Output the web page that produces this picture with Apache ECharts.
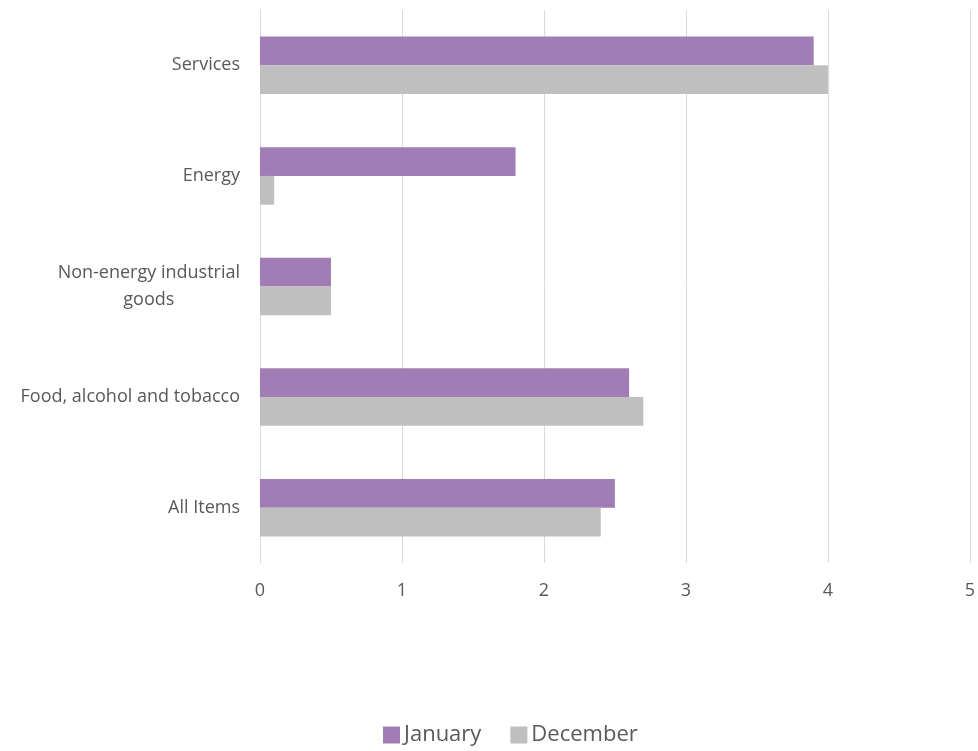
<!DOCTYPE html>
<html><head><meta charset="utf-8">
<script src="https://cdn.jsdelivr.net/npm/echarts@6/dist/echarts.min.js"></script>
<style>html,body{margin:0;padding:0;background:#fff}#c{width:978px;height:751px}</style>
</head><body><div id="c"></div>
<script>
const categories = ['Services', 'Energy', 'Non-energy industrial goods', 'Food, alcohol and tobacco', 'All Items'];
const january = [3.9, 1.8, 0.5, 2.6, 2.5];
const december = [4.0, 0.1, 0.5, 2.7, 2.4];
const xTicks = [0, 1, 2, 3, 4, 5];

const FONT = 'Open Sans';
const chart = echarts.init(document.getElementById('c'));
chart.setOption({
  animation: false,
  grid: { left: 260, right: 7, top: 10, bottom: 188, containLabel: false },
  legend: {
    top: 724, left: 383, padding: 0, itemWidth: 17, itemHeight: 17, itemGap: 29,
    icon: 'rect',
    textStyle: { fontFamily: FONT, fontSize: 22, color: '#595959', padding: [0, 0, 0, -1] },
    data: ['January', 'December']
  },
  xAxis: {
    type: 'value', min: xTicks[0], max: xTicks[xTicks.length - 1], interval: 1,
    axisLine: { show: false }, axisTick: { show: false },
    splitLine: { lineStyle: { color: '#d9d9d9', width: 1 } },
    axisLabel: { margin: 19, fontFamily: FONT, fontSize: 18, color: '#595959' }
  },
  yAxis: {
    type: 'category', inverse: true, data: categories,
    axisLine: { lineStyle: { color: '#d9d9d9' } }, axisTick: { show: false },
    axisLabel: {
      margin: 20, fontFamily: FONT, fontSize: 18, color: '#595959',
      formatter: function (v) {
        if (v === 'Non-energy industrial goods') return '{c|Non-energy industrial}\n{c|goods}';
        return v;
      },
      rich: { c: { align: 'center', fontFamily: FONT, fontSize: 18, color: '#595959', lineHeight: 27 } }
    }
  },
  series: [
    { name: 'January', type: 'bar', data: january, barGap: '0%', barCategoryGap: '48%',
      itemStyle: { color: '#a27cb4' } },
    { name: 'December', type: 'bar', data: december, barGap: '0%', barCategoryGap: '48%',
      itemStyle: { color: '#bfbfbf' } }
  ]
});
</script></body></html>
